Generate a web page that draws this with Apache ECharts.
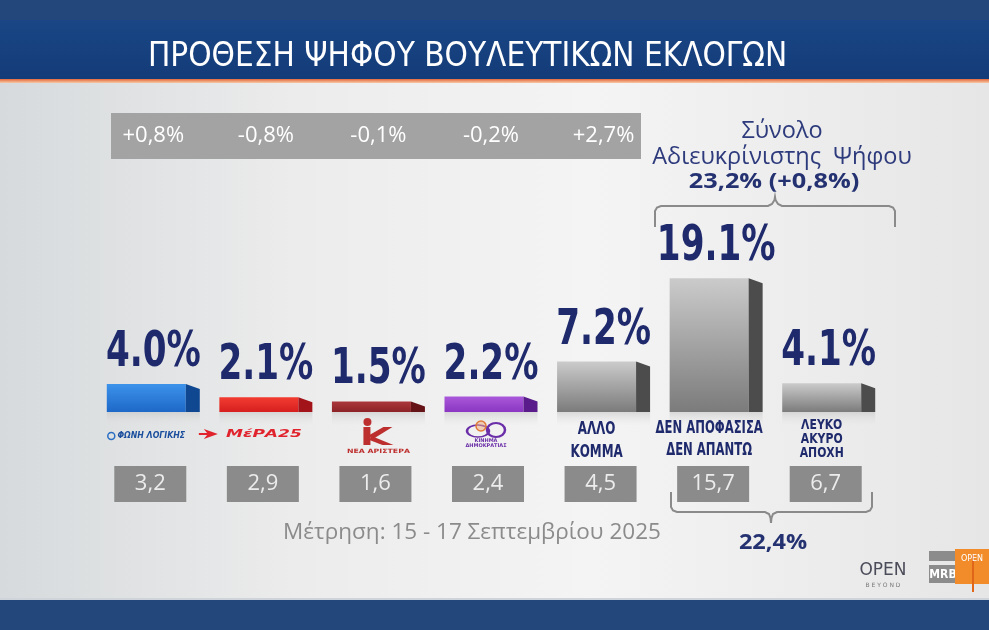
<!DOCTYPE html>
<html>
<head>
<meta charset="utf-8">
<script src="https://cdn.jsdelivr.net/npm/echarts@6/dist/echarts.min.js"></script>
<style>
  html, body { margin: 0; padding: 0; background: #23467b; }
  #chart { width: 989px; height: 630px; }
</style>
</head>
<body>
<div id="chart"></div>
<script>
// data
const categories = ['ΦΩΝΗ ΛΟΓΙΚΗΣ', 'ΜέΡΑ25', 'ΝΕΑ ΑΡΙΣΤΕΡΑ', 'ΚΙΝΗΜΑ ΔΗΜΟΚΡΑΤΙΑΣ', 'ΑΛΛΟ\nΚΟΜΜΑ', 'ΔΕΝ ΑΠΟΦΑΣΙΣΑ\nΔΕΝ ΑΠΑΝΤΩ', 'ΛΕΥΚΟ\nΑΚΥΡΟ\nΑΠΟΧΗ'];
const values = [4.0, 2.1, 1.5, 2.2, 7.2, 19.1, 4.1];
const previous = [3.2, 2.9, 1.6, 2.4, 4.5, 15.7, 6.7];
const changes = ['+0,8%', '-0,8%', '-0,1%', '-0,2%', '+2,7%'];
const undecidedTotal = '23,2% (+0,8%)';
const undecidedPrev = '22,4%';
const fieldDate = 'Μέτρηση: 15 - 17 Σεπτεμβρίου 2025';

// bar colours: [front top, front bottom, side]
const barColors = [
  ['#3d92ea', '#1d68c8', '#0f4791'],
  ['#f23c31', '#d61f1f', '#a3141a'],
  ['#ab373b', '#8c2226', '#661317'],
  ['#aa58da', '#8a36c2', '#591c8a'],
  ['#cbcbcb', '#7b7b7b', '#4c4c4c'],
  ['#cbcbcb', '#7b7b7b', '#4c4c4c'],
  ['#cbcbcb', '#7b7b7b', '#4c4c4c']
];
const navy = '#1f2a6d';
const narrow = '"DejaVu Sans Condensed", "DejaVu Sans", sans-serif';
const labelFonts = [null, null, null, null,
  { size: 17, lh: 23, sx: 0.78 }, { size: 17, lh: 22, sx: 0.76 }, { size: 14, lh: 14, sx: 0.86 }];

function grad(c) {
  return new echarts.graphic.LinearGradient(0, 0, 0, 1, [
    { offset: 0, color: c[0] }, { offset: 1, color: c[1] }
  ]);
}

function oval(x, y, rx, ry, style) {
  return { type: 'circle', x: x, y: y, scaleY: ry / rx, shape: { cx: 0, cy: 0, r: rx }, style: style };
}

function logo(i, cx, base) {
  const out = [];
  if (i === 0) {
    out.push({ type: 'circle', shape: { cx: cx - 42, cy: base + 24, r: 3.5 },
      style: { fill: 'none', stroke: '#2a6fc4', lineWidth: 1.5 } });
    out.push({ type: 'text', x: cx - 2, y: base + 24, scaleX: 0.98,
      style: { text: 'ΦΩΝΗ ΛΟΓΙΚΗΣ', x: 0, y: 0, align: 'center', verticalAlign: 'middle',
        font: 'italic bold 8px "DejaVu Sans"', fill: '#1b4f9e' } });
  } else if (i === 1) {
    const ax = cx - 62, ay = base + 22;
    out.push({ type: 'polygon', shape: { points: [[ax, ay - 5], [ax + 14, ay], [ax, ay + 5], [ax + 4, ay]] },
      style: { fill: '#e0232c' } });
    out.push({ type: 'line', shape: { x1: ax - 5, y1: ay, x2: ax + 8, y2: ay },
      style: { stroke: '#e0232c', lineWidth: 2 } });
    out.push({ type: 'text', x: cx - 2, y: ay, scaleX: 1.55,
      style: { text: 'ΜέΡΑ25', x: 0, y: 0, align: 'center', verticalAlign: 'middle',
        font: 'italic bold 11px "DejaVu Sans"', fill: '#e0232c' } });
  } else if (i === 2) {
    const red = '#bd2f2e', sx = cx - 15, top = base + 15;
    out.push({ type: 'circle', shape: { cx: sx + 4, cy: base + 10, r: 4 }, style: { fill: red } });
    out.push({ type: 'rect', shape: { x: sx, y: top, width: 7, height: 18 }, style: { fill: red } });
    out.push({ type: 'polygon', shape: { points: [[sx + 6, top + 8], [sx + 20, top], [sx + 29, top], [sx + 8, top + 13]] },
      style: { fill: red } });
    out.push({ type: 'polygon', shape: { points: [[sx + 8, top + 9], [sx + 30, top + 18], [sx + 19, top + 18], [sx + 6, top + 13]] },
      style: { fill: red } });
    out.push({ type: 'text', x: cx, y: base + 39, scaleX: 1.3,
      style: { text: 'ΝΕΑ ΑΡΙΣΤΕΡΑ', x: 0, y: 0, align: 'center', verticalAlign: 'middle',
        font: 'bold 6px "DejaVu Sans"', fill: red } });
  } else if (i === 3) {
    const pur = '#6a2fa8', ly = base + 19;
    out.push(oval(cx - 13, ly, 11, 6, { fill: 'none', stroke: pur, lineWidth: 2.5 }));
    out.push(oval(cx + 5, ly - 1, 9, 7, { fill: 'none', stroke: pur, lineWidth: 2.5 }));
    out.push({ type: 'circle', shape: { cx: cx - 10, cy: ly - 5, r: 5 },
      style: { fill: 'rgba(240,170,120,0.5)', stroke: '#e07a3a', lineWidth: 1.5 } });
    out.push({ type: 'text', x: cx - 5, y: ly + 12,
      style: { text: 'ΚΙΝΗΜΑ\nΔΗΜΟΚΡΑΤΙΑΣ', x: 0, y: 0, align: 'center', verticalAlign: 'middle',
        font: 'bold 5px "DejaVu Sans"', lineHeight: 5, fill: pur } });
  }
  return out;
}

function renderBar(params, api) {
  const i = api.value(0);
  const v = api.value(1);
  const p = api.coord([i, v]);
  const b = api.coord([i, 0]);
  const cx = p[0], top = p[1], base = b[1];
  const c = barColors[i];
  const fw = 79, sw = 14;
  const fx = cx - (fw + sw) / 2;
  const slant = Math.min(5, (base - top) / 2);
  const kids = [];

  // faint reflection
  kids.push({ type: 'rect', shape: { x: fx, y: base, width: fw + sw, height: 14 },
    style: { fill: new echarts.graphic.LinearGradient(0, 0, 0, 1, [
      { offset: 0, color: 'rgba(195,195,195,0.55)' }, { offset: 1, color: 'rgba(225,225,225,0)' }]) } });
  kids.push({ type: 'rect', shape: { x: fx, y: top, width: fw, height: base - top },
    style: { fill: grad(c) } });
  kids.push({ type: 'polygon', shape: { points: [[fx + fw, top], [fx + fw + sw, top + slant], [fx + fw + sw, base], [fx + fw, base]] },
    style: { fill: c[2] } });

  // value on top
  kids.push({ type: 'text', x: cx, y: Math.min(top - 6, 398), scaleX: 0.76, style: {
    text: v.toFixed(1) + '%', x: 0, y: 0, align: 'center', verticalAlign: 'bottom',
    font: 'bold 50px ' + narrow, fill: navy } });

  // name / logo below
  if (labelFonts[i]) {
    const f = labelFonts[i];
    kids.push({ type: 'text', x: fx + fw / 2, y: base + 6, scaleX: f.sx, style: {
      text: categories[i], x: 0, y: 0, align: 'center', verticalAlign: 'top',
      font: 'bold ' + f.size + 'px ' + narrow, lineHeight: f.lh, fill: navy } });
  } else {
    kids.push.apply(kids, logo(i, cx, base));
  }

  // previous measurement box
  kids.push({ type: 'rect', shape: { x: cx - 39, y: base + 54, width: 72, height: 36 },
    style: { fill: '#8b8b8b' } });
  kids.push({ type: 'text', style: {
    text: previous[i].toFixed(1).replace('.', ','), x: cx - 3, y: base + 72, align: 'center', verticalAlign: 'middle',
    font: '22px "Open Sans"', fill: '#ececec' } });

  // change vs previous
  if (i < changes.length) {
    kids.push({ type: 'text', style: {
      text: changes[i], x: cx, y: 136, align: 'center', verticalAlign: 'middle',
      font: '22px "Open Sans"', fill: '#ffffff' } });
  }
  return { type: 'group', children: kids };
}

const braceStyle = { fill: 'none', stroke: '#8a8a8a', lineWidth: 2 };

const chart = echarts.init(document.getElementById('chart'));

chart.setOption({
  animation: false,
  grid: { left: 97, right: 104, top: 272, bottom: 218 },
  xAxis: { type: 'category', data: categories, show: false },
  yAxis: { type: 'value', min: 0, max: 20, show: false },
  graphic: [
    { type: 'rect', z: -10, shape: { x: 0, y: 0, width: 989, height: 630 }, style: { fill: '#23467b' } },
    { type: 'rect', z: -9, shape: { x: 0, y: 20, width: 989, height: 60 },
      style: { fill: new echarts.graphic.LinearGradient(0, 0, 0, 1, [
        { offset: 0, color: '#1a4685' }, { offset: 1, color: '#133b78' }]) } },
    { type: 'rect', z: -9, shape: { x: 0, y: 79, width: 989, height: 4 },
      style: { fill: new echarts.graphic.LinearGradient(0, 0, 0, 1, [
        { offset: 0, color: '#e2683a' }, { offset: 1, color: '#f7c9a6' }]) } },
    { type: 'rect', z: -9, shape: { x: 0, y: 83, width: 989, height: 516 },
      style: { fill: new echarts.graphic.LinearGradient(0, 0, 1, 0, [
        { offset: 0, color: '#d6dadc' }, { offset: 0.3, color: '#ececec' },
        { offset: 0.6, color: '#f4f4f4' }, { offset: 1, color: '#e6e6e6' }]) } },
    { type: 'rect', z: -9, shape: { x: 0, y: 598, width: 989, height: 2 }, style: { fill: '#cfd4da' } },
    { type: 'text', style: { text: 'ΠΡΟΘΕΣΗ ΨΗΦΟΥ ΒΟΥΛΕΥΤΙΚΩΝ ΕΚΛΟΓΩΝ', x: 148, y: 57,
      verticalAlign: 'middle', font: '33px ' + narrow, fill: '#ffffff' } },

    { type: 'rect', z: -5, shape: { x: 111, y: 113, width: 530, height: 46 }, style: { fill: '#a3a3a3' } },

    { type: 'text', style: { text: 'Σύνολο', x: 782, y: 131, align: 'center', verticalAlign: 'middle',
      font: '23.5px "Open Sans"', fill: '#2d3a7c' } },
    { type: 'text', style: { text: 'Αδιευκρίνιστης  Ψήφου', x: 782, y: 157, align: 'center', verticalAlign: 'middle',
      font: '23.5px "Open Sans"', fill: '#2d3a7c' } },
    { type: 'text', x: 774, y: 182, scaleX: 1.15, style: { text: undecidedTotal, x: 0, y: 0, align: 'center', verticalAlign: 'middle',
      font: 'bold 22px "Open Sans"', fill: '#253272' } },
    // brace over the undecided pair
    { type: 'polyline', shape: { points: [[655, 227], [655, 211], [657, 207.5], [661, 206], [768, 206], [772, 204], [774.5, 200], [775, 197],
      [775.5, 200], [778, 204], [782, 206], [889, 206], [893, 207.5], [895, 211], [895, 227]] }, style: braceStyle },
    // brace under the previous values
    { type: 'polyline', shape: { points: [[671, 492], [671, 507], [673, 510.5], [677, 512], [765, 512], [769, 514], [770.5, 518], [771, 523],
      [771.5, 518], [773, 514], [777, 512], [866, 512], [870, 510.5], [872, 507], [872, 492]] }, style: braceStyle },
    { type: 'text', x: 773, y: 543, scaleX: 1.12, style: { text: undecidedPrev, x: 0, y: 0, align: 'center', verticalAlign: 'middle',
      font: 'bold 21px "Open Sans"', fill: '#253272' } },
    { type: 'text', style: { text: fieldDate, x: 472, y: 533, align: 'center', verticalAlign: 'middle',
      font: '22.5px "Open Sans"', fill: '#8b8b8b' } },

    // broadcaster marks
    { type: 'text', style: { text: 'OPEN', x: 883, y: 571, align: 'center', verticalAlign: 'middle',
      font: '17px "DejaVu Sans"', fill: '#4b4c5a' } },
    { type: 'text', style: { text: 'B E Y O N D', x: 883, y: 585, align: 'center', verticalAlign: 'middle',
      font: '6px "DejaVu Sans"', fill: '#777777' } },
    { type: 'rect', shape: { x: 929, y: 551, width: 30, height: 10 }, style: { fill: '#8c8c8c' } },
    { type: 'rect', shape: { x: 929, y: 565, width: 30, height: 18 }, style: { fill: '#8c8c8c' } },
    { type: 'text', style: { text: 'MRB', x: 943, y: 575, align: 'center', verticalAlign: 'middle',
      font: 'bold 12px ' + narrow, fill: '#ffffff' } },
    { type: 'rect', shape: { x: 955, y: 549, width: 34, height: 35 }, style: { fill: '#f28c2a' } },
    { type: 'line', shape: { x1: 973, y1: 555, x2: 973, y2: 592 }, style: { stroke: '#e0661a', lineWidth: 2 } },
    { type: 'text', style: { text: 'OPEN', x: 972, y: 559, align: 'center', verticalAlign: 'middle',
      font: '8px "DejaVu Sans"', fill: '#ffffff' } }
  ],
  series: [{
    type: 'custom',
    renderItem: renderBar,
    encode: { x: 0, y: 1 },
    data: values.map((v, i) => [i, v])
  }]
});
</script>
</body>
</html>
